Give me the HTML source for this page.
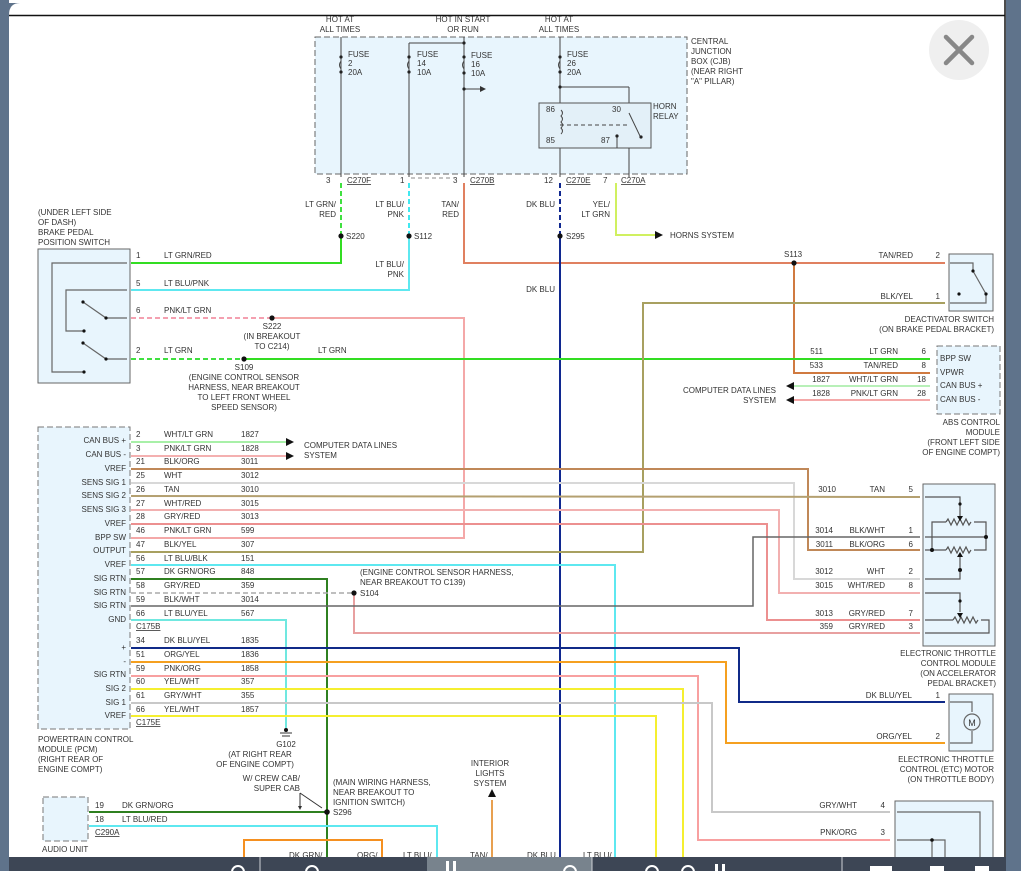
<!DOCTYPE html>
<html><head><meta charset="utf-8"><style>
html,body{margin:0;padding:0;background:#fff;}
svg{display:block;font-family:"Liberation Sans",Arial,sans-serif;}
text{font-size:8px;fill:#333;}
</style></head><body>
<svg width="1021" height="871" viewBox="0 0 1021 871" xmlns="http://www.w3.org/2000/svg">
<rect x="0" y="0" width="1021" height="871" fill="#fff"/>
<rect x="0" y="0" width="9" height="871" fill="#5f738b"/>
<path d="M9 0 L9 15 Q9 3 20 3 L0 3 Z" fill="#5f738b"/>
<rect x="1006" y="0" width="15" height="871" fill="#5f738b"/>
<line x1="1005" y1="0" x2="1005" y2="871" stroke="#111" stroke-width="1.5"/>
<line x1="9" y1="15.5" x2="1005" y2="15.5" stroke="#111" stroke-width="1.5"/>
<circle cx="959" cy="50" r="30" fill="#efefef"/>
<path d="M946 37 L972 63 M972 37 L946 63" stroke="#888" stroke-width="4.5" stroke-linecap="round"/>

<rect x="315" y="37" width="372" height="137" fill="#e8f5fd" stroke="#666" stroke-dasharray="6,3"/>
<text x="691" y="44">CENTRAL</text><text x="691" y="54">JUNCTION</text><text x="691" y="64">BOX (CJB)</text><text x="691" y="74">(NEAR RIGHT</text><text x="691" y="84">"A" PILLAR)</text>
<text x="340" y="22" text-anchor="middle">HOT AT</text><text x="340" y="32" text-anchor="middle">ALL TIMES</text>
<text x="463" y="22" text-anchor="middle">HOT IN START</text><text x="463" y="32" text-anchor="middle">OR RUN</text>
<text x="559" y="22" text-anchor="middle">HOT AT</text><text x="559" y="32" text-anchor="middle">ALL TIMES</text>
<g stroke="#444" fill="none" stroke-width="1">
<line x1="341" y1="37" x2="341" y2="177"/>
<line x1="409" y1="43" x2="409" y2="177"/><line x1="409" y1="43" x2="464" y2="43"/>
<line x1="464" y1="37" x2="464" y2="177"/>
<line x1="464" y1="89" x2="480" y2="89"/>
<line x1="560" y1="37" x2="560" y2="177"/>
<line x1="560" y1="87" x2="629" y2="87"/><line x1="629" y1="87" x2="629" y2="103"/>
<rect x="539" y="103" width="112" height="45" fill="#e3f0f8" stroke="#555"/>
<line x1="629" y1="148" x2="629" y2="177"/>
<line x1="617" y1="136" x2="617" y2="148"/>
<line x1="560" y1="125" x2="628" y2="125" stroke-dasharray="4,3"/>
<line x1="629" y1="113" x2="640" y2="136"/>
<path d="M341 61 q-3 4 0 8 M409 61 q-3 4 0 8 M464 61 q-3 4 0 8 M560 61 q-3 4 0 8"/>
<path d="M561 110 q3 3 0 6 q3 3 0 6 q3 3 0 6 q3 3 0 6"/>
</g>
<path d="M480 86 L486 89 L480 92 Z" fill="#333"/>
<g fill="#222"><circle cx="341" cy="57" r="1.6"/><circle cx="341" cy="72" r="1.6"/><circle cx="409" cy="57" r="1.6"/><circle cx="409" cy="72" r="1.6"/><circle cx="464" cy="57" r="1.6"/><circle cx="464" cy="73" r="1.6"/><circle cx="560" cy="57" r="1.6"/><circle cx="560" cy="72" r="1.6"/><circle cx="464" cy="43" r="1.6"/><circle cx="464" cy="89" r="1.6"/><circle cx="560" cy="87" r="1.6"/><circle cx="641" cy="137" r="1.6"/><circle cx="617" cy="136" r="1.6"/></g>
<text x="348" y="57">FUSE</text><text x="348" y="66">2</text><text x="348" y="75">20A</text>
<text x="417" y="57">FUSE</text><text x="417" y="66">14</text><text x="417" y="75">10A</text>
<text x="471" y="58">FUSE</text><text x="471" y="67">16</text><text x="471" y="76">10A</text>
<text x="567" y="57">FUSE</text><text x="567" y="66">26</text><text x="567" y="75">20A</text>
<text x="546" y="112">86</text><text x="612" y="112">30</text><text x="546" y="143">85</text><text x="601" y="143">87</text>
<text x="653" y="109">HORN</text><text x="653" y="119">RELAY</text>
<text x="326" y="183">3</text><text x="347" y="183" text-decoration="underline">C270F</text>
<text x="400" y="183">1</text><text x="453" y="183">3</text><text x="470" y="183" text-decoration="underline">C270B</text>
<text x="544" y="183">12</text><text x="566" y="183" text-decoration="underline">C270E</text>
<text x="603" y="183">7</text><text x="621" y="183" text-decoration="underline">C270A</text>
<line x1="411" y1="178" x2="455" y2="178" stroke="#888" stroke-dasharray="4,3"/>

<g fill="none" stroke-width="2">
<line x1="341" y1="183" x2="341" y2="236" stroke="#40e040" stroke-dasharray="5,3"/>
<polyline points="341,236 341,263 131,263" stroke="#33dd22"/>
<line x1="409" y1="183" x2="409" y2="236" stroke="#40e8f0" stroke-dasharray="5,3"/>
<polyline points="409,236 409,290 131,290" stroke="#5ee8f0"/>
<polyline points="464,183 464,263 945,263" stroke="#e08060"/>
<polyline points="794,263 794,373 930,373" stroke="#d07a40"/>
<line x1="560" y1="183" x2="560" y2="236" stroke="#102890" stroke-dasharray="5,3"/>
<line x1="560" y1="236" x2="560" y2="857" stroke="#102890"/>
<polyline points="616,183 616,235 655,235" stroke="#d0f060"/>
<line x1="131" y1="318" x2="272" y2="318" stroke="#f4a0b0" stroke-dasharray="5,3"/>
<polyline points="272,318 464,318 464,538 131,538" stroke="#f4a8a8"/>
<line x1="131" y1="359" x2="244" y2="359" stroke="#40e040" stroke-dasharray="5,3"/>
<line x1="244" y1="359" x2="930" y2="359" stroke="#33dd22"/>
<polyline points="131,552 643,552 643,303 945,303" stroke="#a8a060"/>
<polyline points="131,469 808,469 808,550 920,550" stroke="#c08858"/>
<polyline points="131,483 794,483 794,579 920,579" stroke="#d8d8d8"/>
<line x1="131" y1="496" x2="920" y2="497" stroke="#b4a070"/>
<polyline points="131,510 779,510 779,593 920,593" stroke="#f2b0b0"/>
<polyline points="131,524 767,524 767,620 920,620" stroke="#ec9090"/>
<polyline points="131,565 615,565 615,857" stroke="#5ee8f0"/>
<polyline points="131,579 327,579 327,857" stroke="#2f8020"/>
<line x1="131" y1="593" x2="354" y2="593" stroke="#aaa" stroke-dasharray="5,3" stroke-width="1.5"/>
<polyline points="354,593 354,633 920,633" stroke="#e8a0a0"/>
<polyline points="131,606 753,606 753,537 920,537" stroke="#666" stroke-width="1.5"/>
<polyline points="131,620 286,620 286,728" stroke="#70e8e0"/>
<polyline points="131,648 739,648 739,702 945,702" stroke="#102a88"/>
<polyline points="131,662 726,662 726,743 945,743" stroke="#f5a020"/>
<polyline points="131,676 698,676 698,840 890,840" stroke="#f8a0a0"/>
<polyline points="131,689 683,689 683,857" stroke="#f5ef30"/>
<polyline points="131,703 712,703 712,812 890,812" stroke="#c8c8c8"/>
<polyline points="131,716 656,716 656,857" stroke="#f5ef30"/>
<line x1="131" y1="442" x2="286" y2="442" stroke="#a8f0a8"/>
<line x1="131" y1="456" x2="286" y2="456" stroke="#f4b0b0"/>
<line x1="790" y1="386" x2="930" y2="386" stroke="#b8f0b8"/>
<line x1="790" y1="400" x2="930" y2="400" stroke="#f4a8a8"/>
<line x1="89" y1="812" x2="327" y2="812" stroke="#2f8020"/>
<polyline points="89,826 437,826 437,857" stroke="#5ee8f0"/>
<polyline points="244,857 244,840 382,840 382,857" stroke="#f59020"/>
<line x1="492" y1="800" x2="492" y2="857" stroke="#e8a050"/>
</g>
<g fill="#111">
<path d="M655 231 L663 235 L655 239 Z"/>
<path d="M286 438 L294 442 L286 446 Z"/><path d="M286 452 L294 456 L286 460 Z"/>
<path d="M794 382 L786 386 L794 390 Z"/><path d="M794 396 L786 400 L794 404 Z"/>
<path d="M488 797 L492 789 L496 797 Z"/>
</g>
<text x="670" y="238">HORNS SYSTEM</text>
<text x="304" y="448">COMPUTER DATA LINES</text><text x="304" y="458">SYSTEM</text>
<text x="776" y="393" text-anchor="end">COMPUTER DATA LINES</text><text x="776" y="403" text-anchor="end">SYSTEM</text>
<text x="490" y="766" text-anchor="middle">INTERIOR</text><text x="490" y="776" text-anchor="middle">LIGHTS</text><text x="490" y="786" text-anchor="middle">SYSTEM</text>

<g fill="#111"><circle cx="341" cy="236" r="2.6"/><circle cx="409" cy="236" r="2.6"/><circle cx="560" cy="236" r="2.6"/><circle cx="794" cy="263" r="2.6"/><circle cx="272" cy="318" r="2.6"/><circle cx="244" cy="359" r="2.6"/><circle cx="354" cy="593" r="2.6"/><circle cx="327" cy="812" r="2.8"/><circle cx="286" cy="730" r="2"/></g>
<text x="346" y="239">S220</text><text x="414" y="239">S112</text><text x="566" y="239">S295</text><text x="784" y="257">S113</text>
<text x="272" y="329" text-anchor="middle">S222</text><text x="272" y="339" text-anchor="middle">(IN BREAKOUT</text><text x="272" y="349" text-anchor="middle">TO C214)</text>
<text x="244" y="370" text-anchor="middle">S109</text><text x="244" y="380" text-anchor="middle">(ENGINE CONTROL SENSOR</text><text x="244" y="390" text-anchor="middle">HARNESS, NEAR BREAKOUT</text><text x="244" y="400" text-anchor="middle">TO LEFT FRONT WHEEL</text><text x="244" y="410" text-anchor="middle">SPEED SENSOR)</text>
<text x="360" y="596">S104</text><text x="360" y="575">(ENGINE CONTROL SENSOR HARNESS,</text><text x="360" y="585">NEAR BREAKOUT TO C139)</text>
<text x="333" y="815">S296</text><text x="333" y="785">(MAIN WIRING HARNESS,</text><text x="333" y="795">NEAR BREAKOUT TO</text><text x="333" y="805">IGNITION SWITCH)</text>
<text x="300" y="781" text-anchor="end">W/ CREW CAB/</text><text x="300" y="791" text-anchor="end">SUPER CAB</text>
<path d="M300 793 L300 808 M300 793 L322 808" stroke="#333" fill="none"/>
<path d="M298 806 L300 810 L302 806 Z" fill="#333"/>
<line x1="280" y1="733" x2="292" y2="733" stroke="#333"/><line x1="282" y1="736" x2="290" y2="736" stroke="#333"/>
<text x="286" y="747" text-anchor="middle">G102</text><text x="260" y="757" text-anchor="middle">(AT RIGHT REAR</text><text x="255" y="767" text-anchor="middle">OF ENGINE COMPT)</text>
<text x="336" y="207" text-anchor="end">LT GRN/</text><text x="336" y="217" text-anchor="end">RED</text>
<text x="404" y="207" text-anchor="end">LT BLU/</text><text x="404" y="217" text-anchor="end">PNK</text>
<text x="459" y="207" text-anchor="end">TAN/</text><text x="459" y="217" text-anchor="end">RED</text>
<text x="555" y="207" text-anchor="end">DK BLU</text>
<text x="610" y="207" text-anchor="end">YEL/</text><text x="610" y="217" text-anchor="end">LT GRN</text>
<text x="404" y="267" text-anchor="end">LT BLU/</text><text x="404" y="277" text-anchor="end">PNK</text>
<text x="555" y="292" text-anchor="end">DK BLU</text>
<text x="318" y="353">LT GRN</text>

<text x="38" y="215">(UNDER LEFT SIDE</text><text x="38" y="225">OF DASH)</text><text x="38" y="235">BRAKE PEDAL</text><text x="38" y="245">POSITION SWITCH</text>
<rect x="38" y="249" width="92" height="134" fill="#e8f5fd" stroke="#666"/>
<g stroke="#666" fill="none" stroke-width="1.2">
<polyline points="127,263 52,263 52,372 84,372"/>
<polyline points="127,290 66,290 66,331 84,331"/>
<polyline points="83,302 106,318 127,318"/>
<polyline points="83,343 106,359 127,359"/>
</g>
<g fill="#111"><circle cx="83" cy="302" r="1.6"/><circle cx="106" cy="318" r="1.6"/><circle cx="84" cy="331" r="1.6"/><circle cx="83" cy="343" r="1.6"/><circle cx="106" cy="359" r="1.6"/><circle cx="84" cy="372" r="1.6"/></g>
<text x="136" y="258">1</text><text x="164" y="258">LT GRN/RED</text>
<text x="136" y="286">5</text><text x="164" y="286">LT BLU/PNK</text>
<text x="136" y="313">6</text><text x="164" y="313">PNK/LT GRN</text>
<text x="136" y="353">2</text><text x="164" y="353">LT GRN</text>

<rect x="38" y="427" width="92" height="302" fill="#e8f5fd" stroke="#777" stroke-dasharray="6,3"/>
<g text-anchor="end">
<text x="126" y="443">CAN BUS +</text><text x="126" y="457">CAN BUS -</text><text x="126" y="471">VREF</text><text x="126" y="485">SENS SIG 1</text><text x="126" y="498">SENS SIG 2</text><text x="126" y="512">SENS SIG 3</text><text x="126" y="526">VREF</text><text x="126" y="540">BPP SW</text><text x="126" y="553">OUTPUT</text><text x="126" y="567">VREF</text><text x="126" y="581">SIG RTN</text><text x="126" y="595">SIG RTN</text><text x="126" y="608">SIG RTN</text><text x="126" y="622">GND</text><text x="126" y="650">+</text><text x="126" y="664">-</text><text x="126" y="677">SIG RTN</text><text x="126" y="691">SIG 2</text><text x="126" y="705">SIG 1</text><text x="126" y="718">VREF</text>
</g>
<g>
<text x="136" y="437">2</text><text x="164" y="437">WHT/LT GRN</text><text x="241" y="437">1827</text>
<text x="136" y="451">3</text><text x="164" y="451">PNK/LT GRN</text><text x="241" y="451">1828</text>
<text x="136" y="464">21</text><text x="164" y="464">BLK/ORG</text><text x="241" y="464">3011</text>
<text x="136" y="478">25</text><text x="164" y="478">WHT</text><text x="241" y="478">3012</text>
<text x="136" y="492">26</text><text x="164" y="492">TAN</text><text x="241" y="492">3010</text>
<text x="136" y="506">27</text><text x="164" y="506">WHT/RED</text><text x="241" y="506">3015</text>
<text x="136" y="519">28</text><text x="164" y="519">GRY/RED</text><text x="241" y="519">3013</text>
<text x="136" y="533">46</text><text x="164" y="533">PNK/LT GRN</text><text x="241" y="533">599</text>
<text x="136" y="547">47</text><text x="164" y="547">BLK/YEL</text><text x="241" y="547">307</text>
<text x="136" y="561">56</text><text x="164" y="561">LT BLU/BLK</text><text x="241" y="561">151</text>
<text x="136" y="574">57</text><text x="164" y="574">DK GRN/ORG</text><text x="241" y="574">848</text>
<text x="136" y="588">58</text><text x="164" y="588">GRY/RED</text><text x="241" y="588">359</text>
<text x="136" y="602">59</text><text x="164" y="602">BLK/WHT</text><text x="241" y="602">3014</text>
<text x="136" y="616">66</text><text x="164" y="616">LT BLU/YEL</text><text x="241" y="616">567</text>
<text x="136" y="629" text-decoration="underline">C175B</text>
<text x="136" y="643">34</text><text x="164" y="643">DK BLU/YEL</text><text x="241" y="643">1835</text>
<text x="136" y="657">51</text><text x="164" y="657">ORG/YEL</text><text x="241" y="657">1836</text>
<text x="136" y="671">59</text><text x="164" y="671">PNK/ORG</text><text x="241" y="671">1858</text>
<text x="136" y="684">60</text><text x="164" y="684">YEL/WHT</text><text x="241" y="684">357</text>
<text x="136" y="698">61</text><text x="164" y="698">GRY/WHT</text><text x="241" y="698">355</text>
<text x="136" y="712">66</text><text x="164" y="712">YEL/WHT</text><text x="241" y="712">1857</text>
<text x="136" y="725" text-decoration="underline">C175E</text>
</g>
<text x="38" y="742">POWERTRAIN CONTROL</text><text x="38" y="752">MODULE (PCM)</text><text x="38" y="762">(RIGHT REAR OF</text><text x="38" y="772">ENGINE COMPT)</text>

<rect x="43" y="797" width="45" height="44" fill="#e8f5fd" stroke="#777" stroke-dasharray="6,3"/>
<text x="95" y="808">19</text><text x="122" y="808">DK GRN/ORG</text>
<text x="95" y="822">18</text><text x="122" y="822">LT BLU/RED</text>
<text x="95" y="835" text-decoration="underline">C290A</text>
<text x="42" y="852">AUDIO UNIT</text>

<rect x="949" y="254" width="44" height="57" fill="#e8f5fd" stroke="#666"/>
<g stroke="#666" fill="none" stroke-width="1.2"><polyline points="950,263 973,263 973,271 986,294 986,303 950,303"/></g>
<g fill="#111"><circle cx="973" cy="271" r="1.6"/><circle cx="986" cy="294" r="1.6"/><circle cx="959" cy="294" r="1.6"/></g>
<text x="913" y="258" text-anchor="end">TAN/RED</text><text x="940" y="258" text-anchor="end">2</text>
<text x="913" y="299" text-anchor="end">BLK/YEL</text><text x="940" y="299" text-anchor="end">1</text>
<text x="994" y="322" text-anchor="end">DEACTIVATOR SWITCH</text><text x="994" y="332" text-anchor="end">(ON BRAKE PEDAL BRACKET)</text>

<rect x="937" y="346" width="63" height="68" fill="#e8f5fd" stroke="#777" stroke-dasharray="6,3"/>
<text x="940" y="361">BPP SW</text><text x="940" y="375">VPWR</text><text x="940" y="388">CAN BUS +</text><text x="940" y="402">CAN BUS -</text>
<text x="823" y="354" text-anchor="end">511</text><text x="898" y="354" text-anchor="end">LT GRN</text><text x="926" y="354" text-anchor="end">6</text>
<text x="823" y="368" text-anchor="end">533</text><text x="898" y="368" text-anchor="end">TAN/RED</text><text x="926" y="368" text-anchor="end">8</text>
<text x="830" y="382" text-anchor="end">1827</text><text x="898" y="382" text-anchor="end">WHT/LT GRN</text><text x="926" y="382" text-anchor="end">18</text>
<text x="830" y="396" text-anchor="end">1828</text><text x="898" y="396" text-anchor="end">PNK/LT GRN</text><text x="926" y="396" text-anchor="end">28</text>
<text x="1000" y="425" text-anchor="end">ABS CONTROL</text><text x="1000" y="435" text-anchor="end">MODULE</text><text x="1000" y="445" text-anchor="end">(FRONT LEFT SIDE</text><text x="1000" y="455" text-anchor="end">OF ENGINE COMPT)</text>

<rect x="923" y="484" width="72" height="162" fill="#e8f5fd" stroke="#666"/>
<g stroke="#555" fill="none" stroke-width="1.2">
<path d="M925 497 H960 V518"/>
<path d="M932 550 V522 H946 M974 522 H986 V537 H925"/>
<path d="M946 522 l2 -3 l3 6 l3 -6 l3 6 l3 -6 l3 6 l3 -6 l3 6 l2 -3"/>
<path d="M925 550 H946 M974 550 H986 V537"/>
<path d="M946 550 l2 -3 l3 6 l3 -6 l3 6 l3 -6 l3 6 l3 -6 l3 6 l2 -3"/>
<path d="M960 556 V579 H925"/>
<path d="M925 593 H960 V612"/>
<path d="M925 620 H953 M981 620 H989 V633 H925"/>
<path d="M953 620 l2 -3 l3 6 l3 -6 l3 6 l3 -6 l3 6 l3 -6 l3 6 l2 -3"/>
</g>
<g fill="#111"><circle cx="960" cy="504" r="1.6"/><circle cx="986" cy="537" r="2"/><circle cx="932" cy="550" r="2"/><circle cx="960" cy="570" r="2"/><circle cx="960" cy="601" r="1.6"/>
<path d="M957 516 L960 521 L963 516 Z"/><path d="M957 557 L960 552 L963 557 Z"/><path d="M957 613 L960 618 L963 613 Z"/></g>
<text x="836" y="492" text-anchor="end">3010</text><text x="885" y="492" text-anchor="end">TAN</text><text x="913" y="492" text-anchor="end">5</text>
<text x="833" y="533" text-anchor="end">3014</text><text x="885" y="533" text-anchor="end">BLK/WHT</text><text x="913" y="533" text-anchor="end">1</text>
<text x="833" y="547" text-anchor="end">3011</text><text x="885" y="547" text-anchor="end">BLK/ORG</text><text x="913" y="547" text-anchor="end">6</text>
<text x="833" y="574" text-anchor="end">3012</text><text x="885" y="574" text-anchor="end">WHT</text><text x="913" y="574" text-anchor="end">2</text>
<text x="833" y="588" text-anchor="end">3015</text><text x="885" y="588" text-anchor="end">WHT/RED</text><text x="913" y="588" text-anchor="end">8</text>
<text x="833" y="616" text-anchor="end">3013</text><text x="885" y="616" text-anchor="end">GRY/RED</text><text x="913" y="616" text-anchor="end">7</text>
<text x="833" y="629" text-anchor="end">359</text><text x="885" y="629" text-anchor="end">GRY/RED</text><text x="913" y="629" text-anchor="end">3</text>
<text x="996" y="656" text-anchor="end">ELECTRONIC THROTTLE</text><text x="996" y="666" text-anchor="end">CONTROL MODULE</text><text x="996" y="676" text-anchor="end">(ON ACCELERATOR</text><text x="996" y="686" text-anchor="end">PEDAL BRACKET)</text>

<rect x="949" y="694" width="44" height="57" fill="#e8f5fd" stroke="#666"/>
<g stroke="#666" fill="none" stroke-width="1.2"><polyline points="950,702 972,702 972,712"/><polyline points="972,731 972,743 950,743"/><circle cx="972" cy="722" r="8" fill="#e8f5fd"/></g>
<text x="972" y="726" text-anchor="middle" style="font-size:9px">M</text>
<text x="912" y="698" text-anchor="end">DK BLU/YEL</text><text x="940" y="698" text-anchor="end">1</text>
<text x="912" y="739" text-anchor="end">ORG/YEL</text><text x="940" y="739" text-anchor="end">2</text>
<text x="994" y="762" text-anchor="end">ELECTRONIC THROTTLE</text><text x="994" y="772" text-anchor="end">CONTROL (ETC) MOTOR</text><text x="994" y="782" text-anchor="end">(ON THROTTLE BODY)</text>

<rect x="895" y="801" width="98" height="60" fill="#e8f5fd" stroke="#666"/>
<g stroke="#666" fill="none" stroke-width="1.2"><polyline points="897,812 980,812 980,860"/><polyline points="897,840 945,840 945,860"/><line x1="932" y1="840" x2="932" y2="860"/></g>
<circle cx="932" cy="840" r="1.8" fill="#111"/>
<text x="857" y="808" text-anchor="end">GRY/WHT</text><text x="885" y="808" text-anchor="end">4</text>
<text x="857" y="835" text-anchor="end">PNK/ORG</text><text x="885" y="835" text-anchor="end">3</text>

<text x="289" y="858">DK GRN/</text><text x="357" y="858">ORG/</text><text x="403" y="858">LT BLU/</text><text x="470" y="858">TAN/</text><text x="527" y="858">DK BLU</text><text x="583" y="858">LT BLU/</text>

<rect x="9" y="857" width="997" height="14" fill="#3d4655"/>
<rect x="427" y="857" width="165" height="14" fill="#78838d"/>
<line x1="260" y1="857" x2="260" y2="871" stroke="#cfd3d8"/>
<line x1="592" y1="857" x2="592" y2="871" stroke="#cfd3d8"/>
<line x1="842" y1="857" x2="842" y2="871" stroke="#cfd3d8"/>
<g fill="none" stroke="#fff" stroke-width="2"><circle cx="238" cy="872" r="6"/><circle cx="312" cy="872" r="6"/><circle cx="652" cy="872" r="6"/><circle cx="688" cy="872" r="6"/><circle cx="570" cy="872" r="6"/></g>
<g fill="#fff"><rect x="446" y="861" width="3" height="10"/><rect x="453" y="861" width="3" height="10"/><rect x="715" y="864" width="3" height="7"/><rect x="722" y="864" width="3" height="7"/><rect x="870" y="866" width="22" height="5"/><rect x="930" y="866" width="14" height="5"/><rect x="975" y="866" width="14" height="5"/></g>
</svg>
</body></html>
